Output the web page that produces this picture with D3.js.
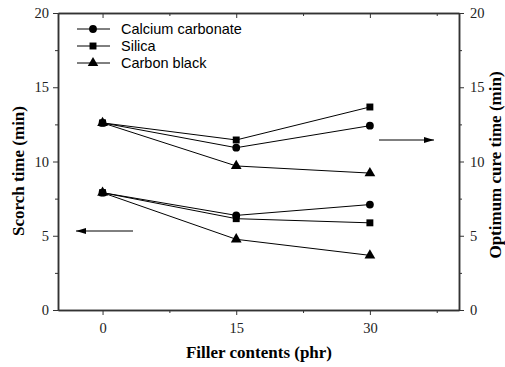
<!DOCTYPE html>
<html>
<head>
<meta charset="utf-8">
<script src="https://cdn.jsdelivr.net/npm/d3@7"></script>
<style>
  body { margin: 0; background: #fff; }
  svg { display: block; }
  .domain, .tick line { stroke: #333; }
</style>
</head>
<body>
<script>
// chart data
const fillers = [0, 15, 30];
const seriesNames = ["Calcium carbonate", "Silica", "Carbon black"];
const symbols = [d3.symbolCircle, d3.symbolSquare, d3.symbolTriangle];
// scorch time (left axis)
const scorchCa = [7.9, 6.37, 7.1];
const scorchSi = [7.9, 6.15, 5.87];
const scorchCb = [7.9, 4.76, 3.68];
// optimum cure time (right axis)
const cureCa = [12.6, 10.93, 12.41];
const cureSi = [12.6, 11.45, 13.67];
const cureCb = [12.6, 9.7, 9.22];
const xTicks = [0, 15, 30];
const yTicks = [0, 5, 10, 15, 20];

const w = 505;
const h = 367;
const mLeft = 58, mRight = 459, mTop = 13, mBottom = 310;
const serif = "'Liberation Serif', 'Times New Roman', serif";

let svg = d3.select("body")
            .append("svg")
            .attr("width", w)
            .attr("height", h);

let x = d3.scaleLinear().domain([-5, 40]).range([mLeft, mRight]);
let y = d3.scaleLinear().domain([0, 20]).range([mBottom, mTop]);
let y2 = d3.scaleLinear().domain([0, 20]).range([mBottom, mTop]);

// minor ticks first, then major
function minor(g, axis) {
    g.call(axis.tickSize(3).tickFormat("").tickSizeOuter(0));
}
const xMinor = [7.5, 22.5, 37.5];
const yMinor = [2.5, 7.5, 12.5, 17.5];

svg.append("g").attr("transform", "translate(0," + mBottom + ")")
    .call(g => minor(g, d3.axisBottom(x).tickValues(xMinor)));
svg.append("g").attr("transform", "translate(0," + mBottom + ")")
    .call(d3.axisBottom(x).tickValues(xTicks).tickSize(5).tickPadding(8).tickSizeOuter(0));
svg.append("g").attr("transform", "translate(0," + mTop + ")")
    .call(g => minor(g, d3.axisBottom(x).tickValues(xMinor)));
svg.append("g").attr("transform", "translate(0," + mTop + ")")
    .call(d3.axisBottom(x).tickValues(xTicks).tickSize(5).tickFormat("").tickSizeOuter(0));

svg.append("g").attr("transform", "translate(" + mLeft + ",0)")
    .call(g => minor(g, d3.axisLeft(y).tickValues(yMinor)));
svg.append("g").attr("transform", "translate(" + mLeft + ",0)")
    .call(d3.axisLeft(y).tickValues(yTicks).tickSize(5).tickPadding(4).tickSizeOuter(0));
svg.append("g").attr("transform", "translate(" + mRight + ",0)")
    .call(g => minor(g, d3.axisRight(y2).tickValues(yMinor)));
svg.append("g").attr("transform", "translate(" + mRight + ",0)")
    .call(d3.axisRight(y2).tickValues(yTicks).tickSize(5).tickPadding(6).tickSizeOuter(0));

svg.selectAll(".domain").attr("stroke-width", 1.5);
svg.selectAll(".tick text")
    .attr("font-family", serif)
    .attr("font-size", 14.5)
    .attr("fill", "#222");

// series
const lower = [scorchCa, scorchSi, scorchCb];
const upper = [cureCa, cureSi, cureCb];
const line = d3.line().x((d, i) => x(fillers[i]));

function drawSeries(vals, scale, k) {
    svg.append("path")
        .attr("d", line.y(d => scale(d))(vals))
        .attr("fill", "none")
        .attr("stroke", "#000")
        .attr("stroke-width", 1);
    svg.selectAll(null)
        .data(vals)
        .enter()
        .append("path")
        .attr("d", d3.symbol().type(symbols[k]).size(k == 2 ? 50 : 48))
        .attr("transform", (d, i) => "translate(" + x(fillers[i]) + "," + scale(d) + ")")
        .attr("fill", "#000");
}
lower.forEach((s, k) => drawSeries(s, y, k));
upper.forEach((s, k) => drawSeries(s, y2, k));

// arrows
svg.append("defs").append("marker")
    .attr("id", "arr")
    .attr("viewBox", "0 0 10 6")
    .attr("refX", 10).attr("refY", 3)
    .attr("markerWidth", 10).attr("markerHeight", 6)
    .attr("markerUnits", "userSpaceOnUse")
    .attr("orient", "auto")
    .append("path").attr("d", "M0,0 L10,3 L0,6 Z").attr("fill", "#000");

svg.append("line")
    .attr("x1", 133).attr("x2", 76).attr("y1", 231).attr("y2", 231)
    .attr("stroke", "#000").attr("marker-end", "url(#arr)");
svg.append("line")
    .attr("x1", 379).attr("x2", 434).attr("y1", 140).attr("y2", 140)
    .attr("stroke", "#000").attr("marker-end", "url(#arr)");

// legend
let legend = svg.append("g");
seriesNames.forEach((name, k) => {
    let ly = 29 + k * 17;
    legend.append("line")
        .attr("x1", 77).attr("x2", 110).attr("y1", ly).attr("y2", ly)
        .attr("stroke", "#000");
    legend.append("path")
        .attr("d", d3.symbol().type(symbols[k]).size(48))
        .attr("transform", "translate(93," + ly + ")");
    legend.append("text")
        .attr("x", 121).attr("y", ly + 5)
        .style("font-family", "'Liberation Sans', Arial, sans-serif")
        .style("font-size", "14.5px")
        .text(name);
});

// axis titles
svg.append("text")
    .attr("x", 259).attr("y", 358)
    .attr("text-anchor", "middle")
    .style("font-family", serif).style("font-weight", "bold").style("font-size", "17px")
    .text("Filler contents (phr)");
svg.append("text")
    .attr("transform", "translate(24,171) rotate(-90)")
    .attr("text-anchor", "middle")
    .style("font-family", serif).style("font-weight", "bold").style("font-size", "17px")
    .text("Scorch time (min)");
svg.append("text")
    .attr("transform", "translate(501,165) rotate(-90)")
    .attr("text-anchor", "middle")
    .style("font-family", serif).style("font-weight", "bold").style("font-size", "17px")
    .text("Optimum cure time (min)");
</script>
</body>
</html>
